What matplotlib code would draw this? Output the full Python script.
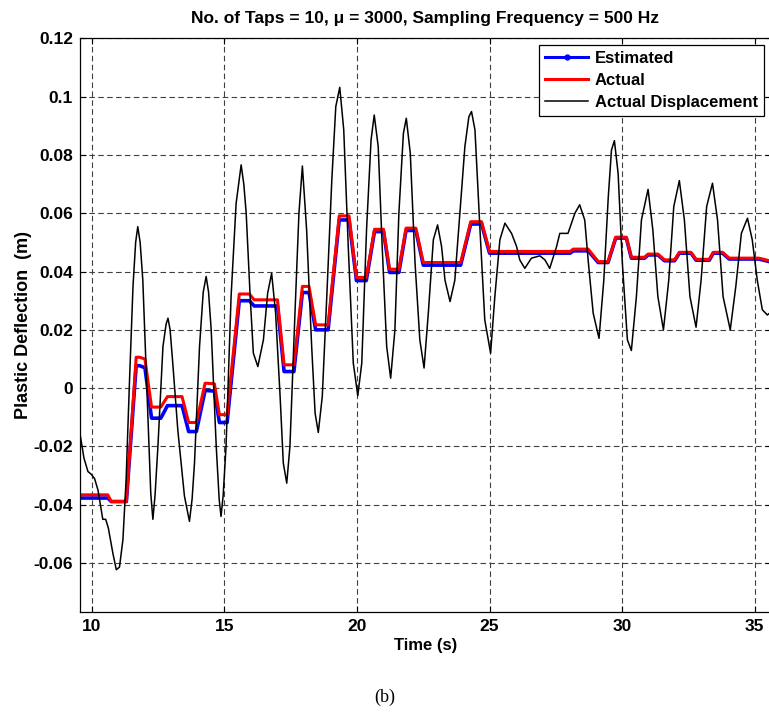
import matplotlib
matplotlib.use('Agg')
import matplotlib.pyplot as plt
from matplotlib.lines import Line2D

# actual displacement (black)
t_disp = [9.54, 9.70, 9.85, 9.97, 10.10, 10.23, 10.41, 10.52, 10.62, 10.79,
          10.92, 11.04, 11.17, 11.29, 11.42, 11.55, 11.65, 11.73, 11.82, 11.92,
          12.11, 12.22, 12.30, 12.38, 12.49, 12.68, 12.80, 12.87, 12.95, 13.05,
          13.24, 13.49, 13.68, 13.78, 13.87, 14.06, 14.20, 14.31, 14.40, 14.50,
          14.69, 14.80, 14.87, 14.95, 15.06, 15.25, 15.44, 15.63, 15.73, 15.82,
          15.97, 16.09, 16.26, 16.47, 16.63, 16.78, 16.93, 17.10, 17.22, 17.35,
          17.47, 17.66, 17.81, 17.94, 18.10, 18.29, 18.42, 18.54, 18.69, 18.86,
          19.05, 19.20, 19.35, 19.50, 19.67, 19.86, 20.03, 20.18, 20.36, 20.53,
          20.65, 20.80, 20.95, 21.12, 21.27, 21.43, 21.58, 21.75, 21.86, 22.01,
          22.19, 22.37, 22.53, 22.69, 22.88, 23.04, 23.19, 23.32, 23.51, 23.69,
          23.88, 24.07, 24.22, 24.32, 24.45, 24.64, 24.82, 25.04, 25.20, 25.39,
          25.58, 25.83, 26.02, 26.14, 26.33, 26.58, 26.90, 27.09, 27.27, 27.53,
          27.65, 27.96, 28.22, 28.40, 28.59, 28.73, 28.91, 29.13, 29.31, 29.48,
          29.60, 29.71, 29.85, 30.01, 30.20, 30.35, 30.54, 30.73, 30.98, 31.16,
          31.35, 31.56, 31.76, 31.95, 32.16, 32.35, 32.56, 32.79, 32.98, 33.19,
          33.41, 33.60, 33.81, 34.08, 34.29, 34.50, 34.73, 34.91, 35.10, 35.29,
          35.48, 35.60]
y_disp = [-0.0150, -0.0240, -0.0286, -0.0295, -0.0310, -0.0350, -0.0450, -0.0450, -0.0480, -0.0566,
          -0.0623, -0.0614, -0.0520, -0.0314, 0.0029, 0.0349, 0.0500, 0.0554, 0.0500, 0.0371,
          -0.0086, -0.0360, -0.0450, -0.0370, -0.0200, 0.0143, 0.0220, 0.0240, 0.0200, 0.0086,
          -0.0143, -0.0370, -0.0457, -0.0380, -0.0257, 0.0143, 0.0330, 0.0383, 0.0330, 0.0200,
          -0.0200, -0.0380, -0.0440, -0.0370, -0.0200, 0.0314, 0.0634, 0.0766, 0.0700, 0.0600,
          0.0314, 0.0120, 0.0074, 0.0166, 0.0326, 0.0394, 0.0257, -0.0029, -0.0257, -0.0326,
          -0.0200, 0.0257, 0.0600, 0.0762, 0.0543, 0.0143, -0.0086, -0.0152, -0.0029, 0.0314,
          0.0714, 0.0966, 0.1032, 0.0886, 0.0486, 0.0086, -0.0026, 0.0086, 0.0543, 0.0851,
          0.0937, 0.0829, 0.0486, 0.0143, 0.0034, 0.0200, 0.0600, 0.0874, 0.0926, 0.0806,
          0.0429, 0.0166, 0.0069, 0.0257, 0.0509, 0.0560, 0.0486, 0.0370, 0.0297, 0.0370,
          0.0600, 0.0829, 0.0931, 0.0949, 0.0886, 0.0543, 0.0234, 0.0120, 0.0314, 0.0509,
          0.0566, 0.0531, 0.0486, 0.0440, 0.0411, 0.0446, 0.0454, 0.0440, 0.0411, 0.0486,
          0.0531, 0.0531, 0.0600, 0.0629, 0.0577, 0.0429, 0.0257, 0.0171, 0.0370, 0.0657,
          0.0817, 0.0849, 0.0737, 0.0429, 0.0166, 0.0129, 0.0314, 0.0577, 0.0682, 0.0543,
          0.0314, 0.0200, 0.0370, 0.0623, 0.0712, 0.0577, 0.0314, 0.0209, 0.0370, 0.0623,
          0.0703, 0.0577, 0.0314, 0.0200, 0.0349, 0.0531, 0.0583, 0.0509, 0.0370, 0.0269,
          0.0251, 0.0260]

# estimated (blue) and actual (red) plastic deflection
t_step = [9.54, 10.60, 10.73, 11.30, 11.67, 11.80, 12.00, 12.25, 12.60, 12.85,
          13.40, 13.65, 13.94, 14.27, 14.62, 14.81, 15.10, 15.56, 15.94, 16.12,
          17.00, 17.25, 17.62, 17.94, 18.19, 18.44, 18.91, 19.33, 19.70, 19.98,
          20.35, 20.66, 21.00, 21.23, 21.58, 21.85, 22.22, 22.50, 23.91, 24.29,
          24.70, 25.00, 28.04, 28.16, 28.72, 29.10, 29.47, 29.76, 30.16, 30.35,
          30.85, 30.98, 31.35, 31.60, 31.98, 32.16, 32.60, 32.79, 33.29, 33.44,
          33.79, 34.04, 35.16, 35.60]
y_act = [-0.0366, -0.0366, -0.0389, -0.0389, 0.0106, 0.0106, 0.0100, -0.0065, -0.0065, -0.0029,
         -0.0029, -0.0118, -0.0118, 0.0017, 0.0015, -0.0091, -0.0091, 0.0323, 0.0323, 0.0303,
         0.0303, 0.0080, 0.0080, 0.0349, 0.0349, 0.0217, 0.0217, 0.0591, 0.0591, 0.0380,
         0.0380, 0.0545, 0.0545, 0.0408, 0.0408, 0.0549, 0.0549, 0.0431, 0.0431, 0.0571,
         0.0571, 0.0469, 0.0469, 0.0477, 0.0477, 0.0434, 0.0434, 0.0518, 0.0518, 0.0449,
         0.0449, 0.0460, 0.0460, 0.0440, 0.0440, 0.0466, 0.0466, 0.0442, 0.0442, 0.0466,
         0.0466, 0.0446, 0.0446, 0.0436]
y_est = [-0.0377, -0.0377, -0.0389, -0.0389, 0.0077, 0.0077, 0.0070, -0.0103, -0.0103, -0.0060,
         -0.0060, -0.0149, -0.0149, -0.0008, -0.0010, -0.0118, -0.0118, 0.0300, 0.0300, 0.0282,
         0.0282, 0.0057, 0.0057, 0.0328, 0.0328, 0.0200, 0.0200, 0.0577, 0.0577, 0.0369,
         0.0369, 0.0537, 0.0537, 0.0397, 0.0397, 0.0541, 0.0541, 0.0422, 0.0422, 0.0563,
         0.0563, 0.0463, 0.0463, 0.0471, 0.0471, 0.0431, 0.0431, 0.0515, 0.0515, 0.0446,
         0.0446, 0.0457, 0.0457, 0.0437, 0.0437, 0.0463, 0.0463, 0.0439, 0.0439, 0.0463,
         0.0463, 0.0443, 0.0443, 0.0433]

x_ticks = [10, 15, 20, 25, 30, 35]
y_ticks = [-0.06, -0.04, -0.02, 0, 0.02, 0.04, 0.06, 0.08, 0.1, 0.12]
y_tick_labels = ['-0.06', '-0.04', '-0.02', '0', '0.02', '0.04', '0.06', '0.08', '0.1', '0.12']

sans = ['Liberation Sans', 'DejaVu Sans']

fig = plt.figure(figsize=(7.69, 7.24), dpi=100)
ax = fig.add_axes([0.104, 0.1547, 0.898, 0.7923])

ax.plot(t_step, y_est, color='#0000ff', lw=2.6, solid_joinstyle='round')
ax.plot(t_step, y_act, color='#ff0000', lw=2.2, solid_joinstyle='round')
ax.plot(t_disp, y_disp, color='black', lw=1.1)

ax.set_xlim(9.55, 35.6)
ax.set_ylim(-0.0768, 0.12)
ax.set_xticks(x_ticks)
ax.set_yticks(y_ticks)
ax.set_yticklabels(y_tick_labels)
ax.grid(True, color='0.25', linestyle=(0, (5, 3)), linewidth=0.8)
ax.tick_params(direction='in', length=4, top=True, right=True, width=0.8, pad=5)
for lab in ax.get_xticklabels() + ax.get_yticklabels():
    lab.set_family(sans)
    lab.set_fontweight('bold')
    lab.set_fontsize(12.5)
for s in ax.spines.values():
    s.set_linewidth(0.9)

ax.set_xlabel('Time (s)', family=sans, fontweight='bold', fontsize=12, labelpad=3)
ax.set_ylabel('Plastic Deflection  (m)', family=sans, fontweight='bold', fontsize=13, labelpad=1)
ax.set_title('No. of Taps = 10, \u03bc = 3000, Sampling Frequency = 500 Hz',
             family=sans, fontweight='bold', fontsize=12.5, pad=11)

handles = [Line2D([], [], color='#0000ff', lw=2.2, marker='.', markersize=7),
           Line2D([], [], color='#ff0000', lw=2.2),
           Line2D([], [], color='black', lw=1.1)]
leg = ax.legend(handles, ['Estimated', 'Actual', 'Actual Displacement'],
                loc='upper right', fancybox=False, framealpha=1, edgecolor='black',
                prop={'family': sans, 'weight': 'bold', 'size': 12},
                handlelength=2.6, handletextpad=0.4, labelspacing=0.42,
                borderpad=0.35, borderaxespad=0.4, numpoints=1)
leg.get_frame().set_linewidth(0.9)

fig.text(0.5, 0.037, '(b)', ha='center', va='center', family=['Liberation Serif', 'DejaVu Serif'], fontsize=13)

fig.savefig('out.png', dpi=100)
